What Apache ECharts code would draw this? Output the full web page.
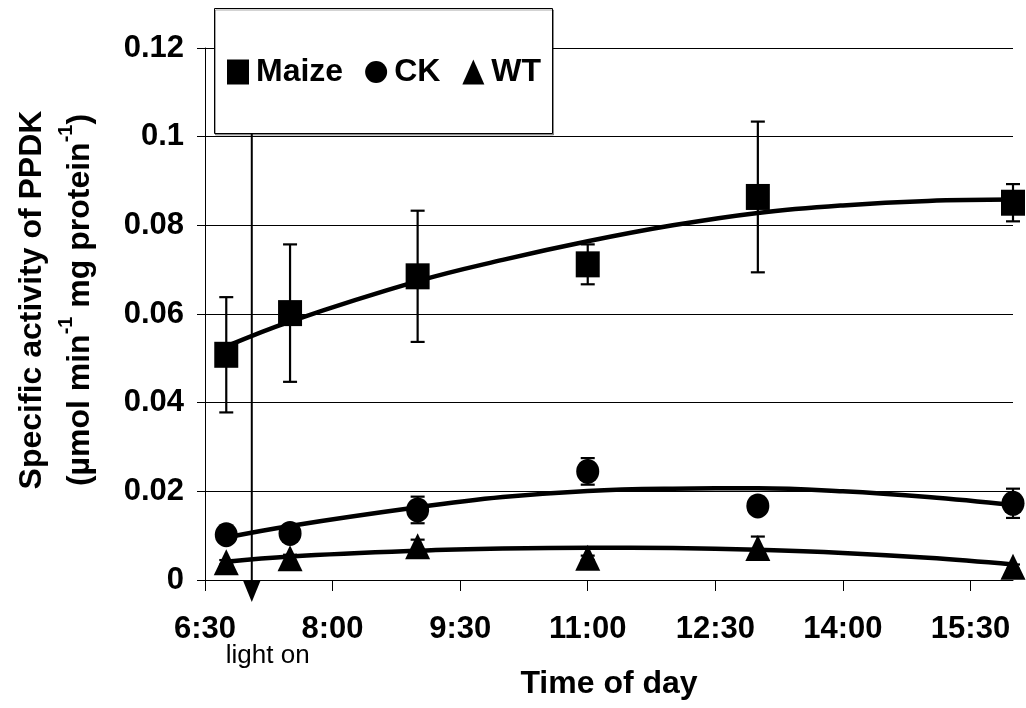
<!DOCTYPE html>
<html>
<head>
<meta charset="utf-8">
<style>
  html, body { margin: 0; padding: 0; background: #fff; }
  #chart { width: 1026px; height: 708px; }
</style>
<script src="https://cdn.jsdelivr.net/npm/echarts@6/dist/echarts.min.js"></script>
</head>
<body>
<div id="chart"></div>
<script>
// ---- data (time in minutes since midnight) ----
const times = [405, 450, 540, 660, 780, 960];
const maize = [0.0508, 0.0602, 0.0685, 0.0712, 0.0864, 0.0851];
const maizeErr = [0.0130, 0.0155, 0.0148, 0.0045, 0.0170, 0.0042];
const ck = [0.0102, 0.0105, 0.0158, 0.0245, 0.0167, 0.0173];
const ckErr = [0.0010, 0.0015, 0.0030, 0.0030, 0.0008, 0.0033];
const wt = [0.0040, 0.0049, 0.0076, 0.0050, 0.0072, 0.0030];
const wtErr = [0.0005, 0.0008, 0.0015, 0.0005, 0.0026, 0.0005];

const trendTimes = [405, 450, 540, 600, 660, 720, 780, 840, 900, 960];
const maizeTrend = [0.0527, 0.0583, 0.0674, 0.0722, 0.0764, 0.0800, 0.0828, 0.0845, 0.0855, 0.0858];
const ckTrend = [0.0096, 0.0122, 0.0164, 0.0187, 0.0201, 0.0206, 0.0207, 0.0200, 0.0187, 0.0169];
const wtTrend = [0.0041, 0.0053, 0.0066, 0.0071, 0.0073, 0.0072, 0.0068, 0.0061, 0.0050, 0.0035];

const lightOn = 423;
const lightOnLabel = 'light on';

const xTickValues = [390, 480, 570, 660, 750, 840, 930];
const xTickLabels = ['6:30', '8:00', '9:30', '11:00', '12:30', '14:00', '15:30'];
const xMin = 390, xMax = 960;
const yMin = 0, yMax = 0.12, yStep = 0.02;

const seriesNames = ['Maize', 'CK', 'WT'];
const xTitle = 'Time of day';
const yTitleLine1 = 'Specific activity of PPDK';

// ---- chart ----
const FONT = '"Liberation Sans", Arial, Helvetica, sans-serif';
const pair = (xs, ys) => xs.map((x, i) => [x, ys[i]]);
const triple = (xs, ys, es) => xs.map((x, i) => [x, ys[i], es[i]]);

function errorBarItem(params, api) {
  const x = api.value(0), v = api.value(1), e = api.value(2);
  const hi = api.coord([x, v + e]);
  const lo = api.coord([x, v - e]);
  const cw = 7;
  const st = { stroke: '#000', lineWidth: 2.2 };
  return {
    type: 'group',
    children: [
      { type: 'line', shape: { x1: hi[0], y1: hi[1], x2: lo[0], y2: lo[1] }, style: st },
      { type: 'line', shape: { x1: hi[0] - cw, y1: hi[1], x2: hi[0] + cw, y2: hi[1] }, style: st },
      { type: 'line', shape: { x1: lo[0] - cw, y1: lo[1], x2: lo[0] + cw, y2: lo[1] }, style: st }
    ]
  };
}

function lightOnItem(params, api) {
  const t = api.value(0);
  const top = api.coord([t, yMax]);
  const bot = api.coord([t, yMin]);
  return {
    type: 'group',
    children: [
      { type: 'line', shape: { x1: top[0], y1: top[1], x2: bot[0], y2: bot[1] }, style: { stroke: '#000', lineWidth: 2 } },
      { type: 'polygon', shape: { points: [[bot[0] - 9, bot[1]], [bot[0] + 9, bot[1]], [bot[0], bot[1] + 22]] }, style: { fill: '#000' } },
      { type: 'text', style: { text: lightOnLabel, x: bot[0] - 26, y: bot[1] + 76, fill: '#000', font: '26px ' + FONT, align: 'left', verticalAlign: 'middle' } }
    ]
  };
}

const ellipse = 'path://M0,-1 A1,1 0 1,1 0,1 A1,1 0 1,1 0,-1 Z';

const chart = echarts.init(document.getElementById('chart'), null, { renderer: 'canvas' });
chart.setOption({
  animation: false,
  backgroundColor: '#fff',
  textStyle: { fontFamily: FONT },
  grid: { left: 202, right: 13, top: 48, bottom: 128, containLabel: false },
  graphic: [{
    type: 'rect', left: 214, top: 8, z: 10,
    shape: { width: 338, height: 125 },
    style: { fill: '#fff', stroke: '#000', lineWidth: 1, shadowColor: 'rgba(0,0,0,0.35)', shadowOffsetX: 1, shadowOffsetY: 1.5, shadowBlur: 0 }
  }],
  legend: {
    z: 20,
    left: 227, top: 56,
    padding: 0,
    itemGap: 22,
    itemWidth: 22, itemHeight: 25,
    itemStyle: { opacity: 1, color: '#000' },
    data: [
      { name: seriesNames[0], icon: 'rect' },
      { name: seriesNames[1], icon: ellipse },
      { name: seriesNames[2], icon: 'triangle' }
    ],
    textStyle: { fontFamily: FONT, fontSize: 32, fontWeight: 'bold', color: '#000', padding: [0, 0, 0, 2] }
  },
  xAxis: {
    type: 'value',
    min: xMin, max: xMax, interval: 90,
    name: xTitle,
    nameLocation: 'middle',
    nameGap: 88,
    nameTextStyle: { fontFamily: FONT, fontSize: 32, fontWeight: 'bold', color: '#000' },
    axisLine: { show: true, lineStyle: { color: '#000', width: 1 } },
    axisTick: { show: true, inside: false, length: 11, lineStyle: { color: '#000', width: 1 }, customValues: xTickValues },
    axisLabel: {
      customValues: xTickValues,
      margin: 34,
      fontFamily: FONT, fontSize: 31, fontWeight: 'bold', color: '#000',
      formatter: v => { const i = xTickValues.indexOf(v); return i >= 0 ? xTickLabels[i] : ''; }
    },
    splitLine: { show: false }
  },
  yAxis: {
    type: 'value',
    min: yMin, max: yMax, interval: yStep,
    name: yTitleLine1 + '\n(µmol min{sup|-1} mg protein{sup|-1})',
    nameLocation: 'middle',
    nameGap: 101,
    nameTextStyle: {
      fontFamily: FONT, fontSize: 32, fontWeight: 'bold', color: '#000', lineHeight: 48,
      padding: [0, 0, 0, 28],
      rich: { sup: { fontFamily: FONT, fontSize: 20, fontWeight: 'bold', color: '#000', verticalAlign: 'top', lineHeight: 32 } }
    },
    axisLine: { show: true, lineStyle: { color: '#000', width: 1 } },
    axisTick: { show: true, inside: false, length: 8, lineStyle: { color: '#000', width: 1 } },
    axisLabel: { margin: 21, fontFamily: FONT, fontSize: 31, fontWeight: 'bold', color: '#000',
      formatter: v => String(Math.round(v * 100) / 100) },
    splitLine: { show: true, lineStyle: { color: '#000', width: 1 } }
  },
  series: [
    { type: 'custom', name: 'lightOn', renderItem: lightOnItem, data: [[lightOn, 0]], encode: { x: 0, y: 1 }, z: 1, silent: true },
    { type: 'line', name: 'MaizeTrend', data: pair(trendTimes, maizeTrend), smooth: 0.4, showSymbol: false, symbol: 'none', lineStyle: { color: '#000', width: 4.5 }, z: 3 },
    { type: 'line', name: 'CKTrend', data: pair(trendTimes, ckTrend), smooth: 0.4, showSymbol: false, symbol: 'none', lineStyle: { color: '#000', width: 4.5 }, z: 3 },
    { type: 'line', name: 'WTTrend', data: pair(trendTimes, wtTrend), smooth: 0.4, showSymbol: false, symbol: 'none', lineStyle: { color: '#000', width: 4.5 }, z: 3 },
    { type: 'custom', name: 'MaizeErr', renderItem: errorBarItem, data: triple(times, maize, maizeErr), encode: { x: 0, y: 1 }, z: 2 },
    { type: 'custom', name: 'CKErr', renderItem: errorBarItem, data: triple(times, ck, ckErr), encode: { x: 0, y: 1 }, z: 2 },
    { type: 'custom', name: 'WTErr', renderItem: errorBarItem, data: triple(times, wt, wtErr), encode: { x: 0, y: 1 }, z: 2 },
    { type: 'scatter', name: seriesNames[0], data: pair(times, maize), symbol: 'rect', symbolSize: [24, 26], itemStyle: { color: '#000', opacity: 1 }, z: 4, clip: false },
    { type: 'scatter', name: seriesNames[1], data: pair(times, ck), symbol: ellipse, symbolSize: [23, 25], itemStyle: { color: '#000', opacity: 1 }, z: 4, clip: false },
    { type: 'scatter', name: seriesNames[2], data: pair(times, wt), symbol: 'triangle', symbolSize: [25, 26], itemStyle: { color: '#000', opacity: 1 }, z: 4, clip: false }
  ]
});
</script>
</body>
</html>
